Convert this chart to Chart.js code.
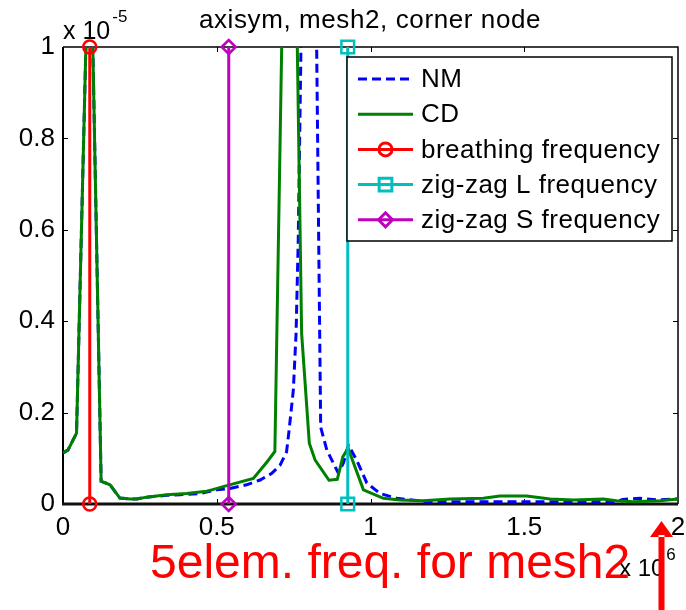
<!DOCTYPE html>
<html>
<head>
<meta charset="utf-8">
<script src="https://cdn.jsdelivr.net/npm/chart.js@4.4.1/dist/chart.umd.min.js"></script>
<style>
  body { margin: 0; background: #fff; }
  canvas { display: block; }
</style>
</head>
<body>
<canvas id="freqChart" width="686" height="610"></canvas>
<script>
// frequency in units of 1e6, amplitude in units of 1e-5
var nmFreq = [0, 0.016, 0.044, 0.087, 0.124, 0.153, 0.185, 0.218, 0.24, 0.272, 0.337, 0.38, 0.445, 0.5,
  0.543, 0.597, 0.641, 0.679, 0.706, 0.727, 0.735, 0.749, 0.758, 0.765, 0.803, 0.838, 0.858, 0.895,
  0.912, 0.928, 0.955, 0.988, 1.031, 1.085, 1.18, 1.5, 1.8, 1.82, 1.876, 1.93, 2.0];
var nmAmp = [0.112, 0.118, 0.155, 1.35, 0.05, 0.042, 0.013, 0.011, 0.011, 0.015, 0.019, 0.02, 0.023, 0.031,
  0.034, 0.042, 0.0525, 0.067, 0.085, 0.114, 0.16, 0.249, 0.374, 0.578, 2.39, 0.168, 0.118, 0.068,
  0.09, 0.129, 0.096, 0.046, 0.023, 0.0125, 0.005, 0.005, 0.005, 0.01, 0.0125, 0.009, 0.011];
var cdFreq = [0, 0.016, 0.044, 0.087, 0.124, 0.153, 0.185, 0.218, 0.24, 0.272, 0.337, 0.402, 0.467, 0.484,
  0.521, 0.619, 0.664, 0.689, 0.738, 0.776, 0.801, 0.82, 0.865, 0.892, 0.91, 0.927, 0.977, 1.042,
  1.096, 1.172, 1.259, 1.367, 1.421, 1.508, 1.584, 1.66, 1.757, 1.8, 1.855, 1.941, 2.0];
var cdAmp = [0.112, 0.118, 0.155, 1.35, 0.05, 0.042, 0.013, 0.011, 0.011, 0.015, 0.02, 0.023, 0.028, 0.031,
  0.038, 0.056, 0.0925, 0.115, 2.07, 0.374, 0.133, 0.096, 0.052, 0.054, 0.103, 0.122, 0.031, 0.0125,
  0.0088, 0.0072, 0.011, 0.0125, 0.0175, 0.0175, 0.011, 0.0088, 0.011, 0.0072, 0.005, 0.0072, 0.011];
var breathingFreq = 0.087;
var zigzagLFreq = 0.926;
var zigzagSFreq = 0.539;
var xTicks = [0, 0.5, 1, 1.5, 2];
var xTickLabels = ["0", "0.5", "1", "1.5", "2"];
var yTicks = [0, 0.2, 0.4, 0.6, 0.8, 1];
var yTickLabels = ["0", "0.2", "0.4", "0.6", "0.8", "1"];
var seriesNames = ["NM", "CD", "breathing frequency", "zig-zag L frequency", "zig-zag S frequency"];

var FONT = "'Liberation Sans', Arial, Helvetica, sans-serif";

function toPoints(xs, ys) {
  return xs.map(function(x, i) { return { x: x, y: ys[i] }; });
}
function vline(f) {
  return [{ x: f, y: 0 }, { x: f, y: 1 }];
}
function noPad(scale) {
  scale.paddingLeft = 0; scale.paddingRight = 0;
  scale.paddingTop = 0; scale.paddingBottom = 0;
}

var extras = {
  id: 'extras',
  beforeDatasetsDraw: function(chart) {
    var ctx = chart.ctx, a = chart.chartArea;
    var xs = chart.scales.x, ys = chart.scales.y;
    ctx.save();
    ctx.strokeStyle = '#000';
    // inward tick marks
    ctx.lineWidth = 1;
    xTicks.slice(1, -1).forEach(function(v) {
      var px = Math.round(xs.getPixelForValue(v)) + 0.5;
      ctx.beginPath();
      ctx.moveTo(px, a.bottom); ctx.lineTo(px, a.bottom - 5);
      ctx.moveTo(px, a.top); ctx.lineTo(px, a.top + 5);
      ctx.stroke();
    });
    yTicks.slice(1, -1).forEach(function(v) {
      var py = Math.round(ys.getPixelForValue(v)) + 0.5;
      ctx.beginPath();
      ctx.moveTo(a.left, py); ctx.lineTo(a.left + 5, py);
      ctx.moveTo(a.right, py); ctx.lineTo(a.right - 5, py);
      ctx.stroke();
    });
    // axes box
    ctx.lineWidth = 1.5;
    ctx.beginPath();
    ctx.moveTo(a.left, a.top); ctx.lineTo(a.right, a.top); ctx.lineTo(a.right, a.bottom);
    ctx.stroke();
    ctx.lineWidth = 2;
    ctx.beginPath();
    ctx.moveTo(a.left, a.top); ctx.lineTo(a.left, a.bottom);
    ctx.stroke();
    ctx.lineWidth = 3;
    ctx.strokeStyle = '#111';
    ctx.beginPath();
    ctx.moveTo(a.left - 1, a.bottom); ctx.lineTo(a.right, a.bottom);
    ctx.stroke();
    ctx.restore();
  },
  afterDraw: function(chart) {
    var ctx = chart.ctx, a = chart.chartArea;
    ctx.save();
    ctx.fillStyle = '#000';
    ctx.textBaseline = 'alphabetic';

    // title
    ctx.font = '26px ' + FONT;
    ctx.letterSpacing = '0.6px';
    ctx.textAlign = 'center';
    ctx.fillText('axisym, mesh2, corner node', 370, 28);

    // exponent labels
    ctx.letterSpacing = '0px';
    ctx.textAlign = 'left';
    ctx.font = '25px ' + FONT;
    ctx.fillText('x 10', 63, 39);
    var w = ctx.measureText('x 10').width;
    ctx.font = '17px ' + FONT;
    ctx.fillText('-5', 63 + w + 2, 22);

    ctx.font = '24px ' + FONT;
    ctx.fillText('x 10', 619, 576);
    w = ctx.measureText('x 10').width;
    ctx.font = '17px ' + FONT;
    ctx.fillText('6', 619 + w + 2, 560);

    // legend
    var lx = 347, ly = 57, lw = 325, lh = 184;
    ctx.fillStyle = '#fff';
    ctx.fillRect(lx, ly, lw, lh);
    ctx.strokeStyle = '#000';
    ctx.lineWidth = 1.5;
    ctx.strokeRect(lx, ly, lw, lh);
    ctx.font = '26px ' + FONT;
    ctx.letterSpacing = '0.5px';
    ctx.textBaseline = 'middle';
    chart.data.datasets.forEach(function(ds, i) {
      var y = 79 + i * 35.2;
      ctx.save();
      ctx.strokeStyle = ds.borderColor;
      ctx.lineWidth = ds.borderWidth;
      ctx.setLineDash(ds.borderDash || []);
      ctx.beginPath();
      ctx.moveTo(358, y); ctx.lineTo(413, y);
      ctx.stroke();
      ctx.setLineDash([]);
      if (ds.pointRadius > 0) {
        ctx.strokeStyle = ds.pointBorderColor;
        ctx.fillStyle = 'rgba(0,0,0,0)';
        Chart.helpers.drawPoint(ctx, {
          pointStyle: ds.pointStyle, radius: ds.pointRadius, rotation: 0,
          borderWidth: ds.pointBorderWidth
        }, 385.5, y);
      }
      ctx.restore();
      ctx.fillStyle = '#000';
      ctx.fillText(seriesNames[i], 421, y + 1);
    });

    // red annotation
    ctx.letterSpacing = '0px';
    ctx.fillStyle = '#ff0000';
    ctx.textBaseline = 'alphabetic';
    ctx.font = '48px ' + FONT;
    ctx.fillText('5elem. freq. for mesh2', 150, 578);

    // red arrow
    ctx.beginPath();
    ctx.rect(658.5, 535, 6, 80);
    ctx.moveTo(650, 537); ctx.lineTo(673, 537); ctx.lineTo(661.5, 521);
    ctx.closePath();
    ctx.fill();
    ctx.restore();
  }
};

var ctx = document.getElementById('freqChart');
var myChart = new Chart(ctx, {
  type: 'scatter',
  data: {
    datasets: [{
      label: seriesNames[0],
      data: toPoints(nmFreq, nmAmp),
      showLine: true,
      borderColor: '#0000ff',
      borderWidth: 3,
      borderDash: [9, 5],
      pointRadius: 0,
      order: 5
    }, {
      label: seriesNames[1],
      data: toPoints(cdFreq, cdAmp),
      showLine: true,
      borderColor: '#008000',
      borderWidth: 3,
      pointRadius: 0,
      order: 4
    }, {
      label: seriesNames[2],
      data: vline(breathingFreq),
      showLine: true,
      borderColor: '#ff0000',
      borderWidth: 3,
      pointStyle: 'circle',
      pointRadius: 6.5,
      pointBorderColor: '#ff0000',
      pointBorderWidth: 2.5,
      pointBackgroundColor: 'rgba(0,0,0,0)',
      clip: false,
      order: 3
    }, {
      label: seriesNames[3],
      data: vline(zigzagLFreq),
      showLine: true,
      borderColor: '#00bfbf',
      borderWidth: 3,
      pointStyle: 'rect',
      pointRadius: 9,
      pointBorderColor: '#00bfbf',
      pointBorderWidth: 2.5,
      pointBackgroundColor: 'rgba(0,0,0,0)',
      clip: false,
      order: 2
    }, {
      label: seriesNames[4],
      data: vline(zigzagSFreq),
      showLine: true,
      borderColor: '#bf00bf',
      borderWidth: 3,
      pointStyle: 'rectRot',
      pointRadius: 7,
      pointBorderColor: '#bf00bf',
      pointBorderWidth: 2.5,
      pointBackgroundColor: 'rgba(0,0,0,0)',
      clip: false,
      order: 1
    }]
  },
  options: {
    responsive: false,
    animation: false,
    devicePixelRatio: 1,
    layout: { autoPadding: false, padding: { top: 47, right: 8, left: 0, bottom: 0 } },
    elements: { line: { tension: 0 } },
    scales: {
      x: {
        type: 'linear',
        min: 0,
        max: 2,
        afterBuildTicks: function(scale) {
          scale.ticks = xTicks.map(function(v) { return { value: v }; });
        },
        afterFit: function(scale) { scale.height = 106; noPad(scale); },
        grid: { display: false, drawTicks: false },
        border: { display: false },
        ticks: {
          padding: 8,
          color: '#000',
          font: { family: FONT, size: 26 },
          maxRotation: 0,
          autoSkip: false,
          callback: function(v, i) { return xTickLabels[i]; }
        }
      },
      y: {
        type: 'linear',
        min: 0,
        max: 1,
        afterBuildTicks: function(scale) {
          scale.ticks = yTicks.map(function(v) { return { value: v }; });
        },
        afterFit: function(scale) { scale.width = 63; noPad(scale); },
        grid: { display: false, drawTicks: false },
        border: { display: false },
        ticks: {
          padding: 8,
          color: '#000',
          font: { family: FONT, size: 26 },
          autoSkip: false,
          callback: function(v, i) { return yTickLabels[i]; }
        }
      }
    },
    plugins: {
      legend: { display: false },
      title: { display: false },
      tooltip: { enabled: false }
    }
  },
  plugins: [extras]
});
</script>
</body>
</html>
